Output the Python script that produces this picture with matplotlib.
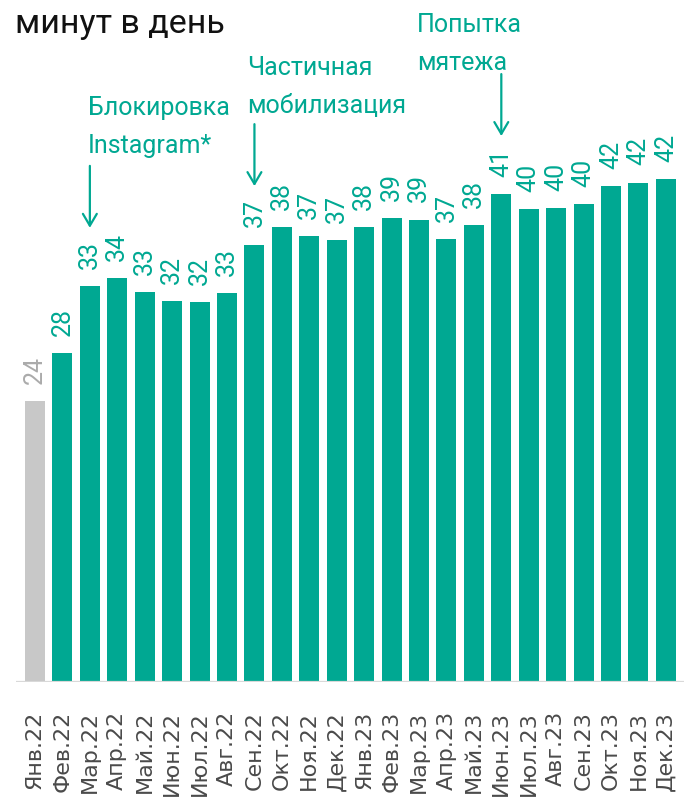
import matplotlib
matplotlib.use("Agg")
from matplotlib import pyplot as plt

# months and values (minutes per day)
months = ["Янв.22", "Фев.22", "Мар.22", "Апр.22", "Май.22", "Июн.22",
          "Июл.22", "Авг.22", "Сен.22", "Окт.22", "Ноя.22", "Дек.22",
          "Янв.23", "Фев.23", "Мар.23", "Апр.23", "Май.23", "Июн.23",
          "Июл.23", "Авг.23", "Сен.23", "Окт.23", "Ноя.23", "Дек.23"]
minutes = [23.6, 27.6, 33.2, 33.9, 32.7, 32.0, 31.9, 32.6, 36.7, 38.2, 37.4, 37.1,
           38.2, 38.9, 38.8, 37.2, 38.3, 40.9, 39.7, 39.8, 40.1, 41.6, 41.9, 42.2]

# events marked with arrows: bar index and caption lines
event_idx = [2, 8, 17]
event_text = [["Блокировка", "Instagram*"],
              ["Частичная", "мобилизация"],
              ["Попытка", "мятежа"]]

title = "минут в день"

teal = "#00a892"
grey_bar = "#c8c8c8"
grey_text = "#ababab"

W, H = 684, 803
fig = plt.figure(figsize=(W / 100, H / 100), dpi=100)

# axes: baseline at y=683px, bars every ~27.4px starting at x=35px
px_per_unit = 11.92
pitch = 27.43
ax = fig.add_axes([16 / W, (H - 683) / H, 668 / W, 683 / H])
left = -19 / pitch
ax.set_xlim(left, left + 668 / pitch)
ax.set_ylim(0, 683 / px_per_unit)

colors = [grey_bar] + [teal] * (len(minutes) - 1)
x = list(range(len(minutes)))
ax.bar(x, minutes, width=0.73, color=colors, zorder=2)
ax.axhline(0, color="#d9d9d9", lw=1.6, zorder=3)

# value labels over each bar
for i, v in enumerate(minutes):
    ax.annotate(f"{round(v)}", xy=(i, v), xytext=(0, 13), textcoords="offset points",
                rotation=90, ha="center", va="bottom", fontsize=18,
                family=["Roboto", "DejaVu Sans"],
                color=grey_text if i == 0 else teal)

# month labels
ax.set_xticks(x)
ax.set_xticklabels(months, rotation=90, fontsize=16, color="#4a4a4a",
                   family=["DejaVu Sans"])
ax.tick_params(axis="x", length=0, pad=20)
ax.set_yticks([])
for s in ax.spines.values():
    s.set_visible(False)

# arrows pointing down to the event bars
for i in event_idx:
    tip = minutes[i] + 4.9
    ax.annotate("", xy=(i, tip), xytext=(i, tip + 5.2),
                arrowprops=dict(arrowstyle="->,head_length=0.85,head_width=0.5",
                                color=teal, lw=1.6, shrinkA=0, shrinkB=0,
                                mutation_scale=10))

# captions (left x, baseline y of the first line, in pixels)
caption_pos = [(88, 115), (247, 75), (417, 32)]
for (cx, cy), lines in zip(caption_pos, event_text):
    for k, line in enumerate(lines):
        fig.text(cx / W, 1 - (cy + 38 * k) / H, line, fontsize=18, color=teal,
                 family=["Roboto", "DejaVu Sans"], va="baseline", ha="left")

fig.text(15 / W, 1 - 33 / H, title, fontsize=24.5, color="#111111",
         family=["Roboto", "DejaVu Sans"], va="baseline", ha="left")

fig.savefig("out.png", dpi=100)
